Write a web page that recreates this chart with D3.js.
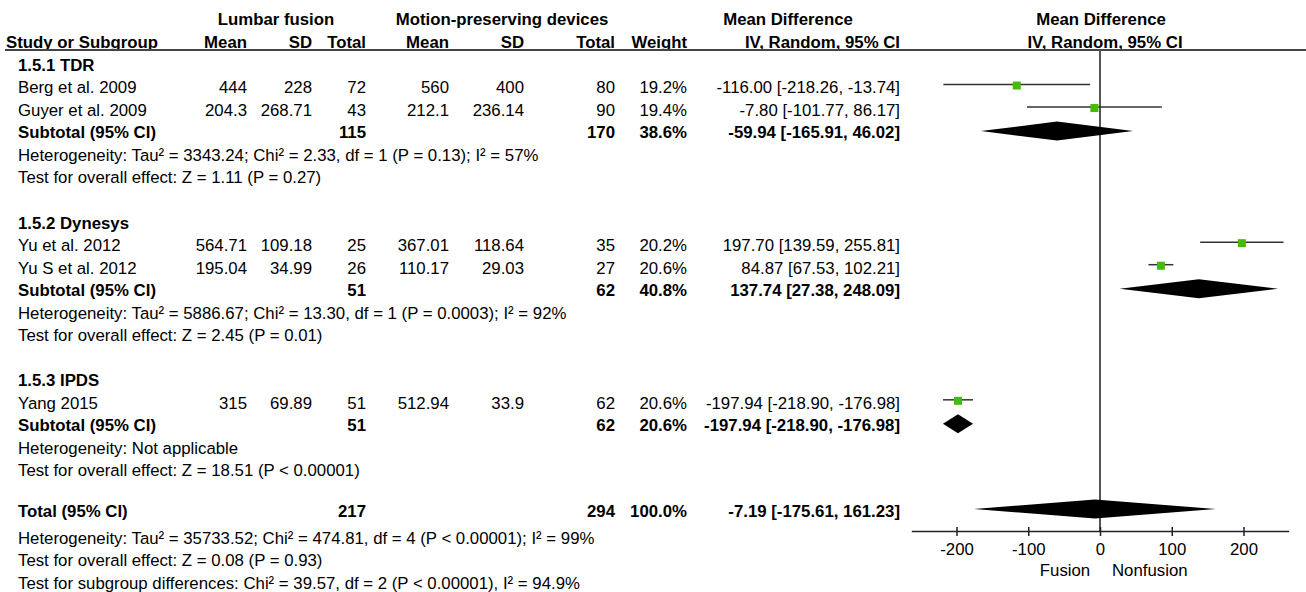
<!DOCTYPE html>
<html lang="en">
<head>
<meta charset="UTF-8">
<title>forest plot</title>
<style>
	body { margin: 0; background: #fff; }
	text { font-family: "Liberation Sans", Arial, sans-serif; font-size: 16.8px; fill: #000; }
	.b { font-weight: bold; }
</style>
</head>
<body>
<svg id="container" width="1306" height="592"></svg>
<script src="https://cdn.jsdelivr.net/npm/d3@7/dist/d3.min.js"></script>
<script>
// study level data
let studies = ["Berg et al. 2009", "Guyer et al. 2009", "Yu et al. 2012", "Yu S et al. 2012", "Yang 2015"]
let studyGroup = [0, 0, 1, 1, 2]
let fusionMean = ["444", "204.3", "564.71", "195.04", "315"]
let fusionSD = ["228", "268.71", "109.18", "34.99", "69.89"]
let fusionN = [72, 43, 25, 26, 51]
let deviceMean = ["560", "212.1", "367.01", "110.17", "512.94"]
let deviceSD = ["400", "236.14", "118.64", "29.03", "33.9"]
let deviceN = [80, 90, 35, 27, 62]
let studyWeight = ["19.2%", "19.4%", "20.2%", "20.6%", "20.6%"]
let studyMD = [-116.00, -7.80, 197.70, 84.87, -197.94]
let studyLo = [-218.26, -101.77, 139.59, 67.53, -218.90]
let studyHi = [-13.74, 86.17, 255.81, 102.21, -176.98]

// subgroups
let groups = ["1.5.1 TDR", "1.5.2 Dynesys", "1.5.3 IPDS"]
let groupFusionN = [115, 51, 51]
let groupDeviceN = [170, 62, 62]
let groupWeight = ["38.6%", "40.8%", "20.6%"]
let groupMD = [-59.94, 137.74, -197.94]
let groupLo = [-165.91, 27.38, -218.90]
let groupHi = [46.02, 248.09, -176.98]
let groupHet = [
	"Heterogeneity: Tau² = 3343.24; Chi² = 2.33, df = 1 (P = 0.13); I² = 57%",
	"Heterogeneity: Tau² = 5886.67; Chi² = 13.30, df = 1 (P = 0.0003); I² = 92%",
	"Heterogeneity: Not applicable"
]
let groupTest = [
	"Test for overall effect: Z = 1.11 (P = 0.27)",
	"Test for overall effect: Z = 2.45 (P = 0.01)",
	"Test for overall effect: Z = 18.51 (P < 0.00001)"
]

// overall
let totalFusionN = 217
let totalDeviceN = 294
let totalWeight = "100.0%"
let totalMD = -7.19, totalLo = -175.61, totalHi = 161.23
let totalNotes = [
	"Heterogeneity: Tau² = 35733.52; Chi² = 474.81, df = 4 (P < 0.00001); I² = 99%",
	"Test for overall effect: Z = 0.08 (P = 0.93)",
	"Test for subgroup differences: Chi² = 39.57, df = 2 (P < 0.00001), I² = 94.9%"
]
let axisTicks = [-200, -100, 0, 100, 200]
let axisLabels = ["Fusion", "Nonfusion"]

let svg = d3.select("#container")
let loc = d3.formatLocale({ decimal: ".", thousands: ",", grouping: [3], currency: ["", ""], minus: "-" })
let f2 = loc.format(".2f")
let ci = (m, l, h) => f2(m) + " [" + f2(l) + ", " + f2(h) + "]"

// row slots
let rowY = d3.scaleLinear().domain([0, 23]).range([65, 583])
let x = d3.scaleLinear().domain([-263, 263]).range([911.3, 1288.7])

// columns: right aligned x positions
let col = { study: 18, m1: 247, sd1: 312, n1: 366, m2: 449, sd2: 524, n2: 615, w: 687, ci: 900 }

function txt(g, xp, y, s, anchor, cls) {
	g.append("text").attr("x", xp).attr("y", y).attr("dy", "0.35em")
		.attr("text-anchor", anchor || "end").attr("class", cls || null).text(s)
}

let head = svg.append("g")
txt(head, 276, 19, "Lumbar fusion", "middle", "b")
txt(head, 502, 19, "Motion-preserving devices", "middle", "b")
txt(head, 788, 19, "Mean Difference", "middle", "b")
txt(head, 1101, 19, "Mean Difference", "middle", "b")
txt(head, 6, 42, "Study or Subgroup", "start", "b")
txt(head, col.m1, 42, "Mean", "end", "b")
txt(head, col.sd1, 42, "SD", "end", "b")
txt(head, col.n1, 42, "Total", "end", "b")
txt(head, col.m2, 42, "Mean", "end", "b")
txt(head, col.sd2, 42, "SD", "end", "b")
txt(head, col.n2, 42, "Total", "end", "b")
txt(head, col.w, 42, "Weight", "end", "b")
txt(head, col.ci, 42, "IV, Random, 95% CI", "end", "b")
txt(head, 1105, 42, "IV, Random, 95% CI", "middle", "b")

svg.append("line").attr("x1", 5).attr("x2", 1306).attr("y1", 50).attr("y2", 50)
	.attr("stroke", "#444").attr("stroke-width", 2)

// zero line
svg.append("line").attr("x1", x(0)).attr("x2", x(0)).attr("y1", 50).attr("y2", 531)
	.attr("stroke", "#555").attr("stroke-width", 2)

let body = svg.append("g")
let markOff = -3

function diamond(y, m, l, h) {
	let hh = 9.5
	body.append("path")
		.attr("d", "M" + x(l) + "," + y + "L" + x(m) + "," + (y - hh) + "L" + x(h) + "," + y + "L" + x(m) + "," + (y + hh) + "Z")
		.attr("fill", "#000")
}

groups.forEach((gname, gi) => {
	let start = gi * 7
	txt(body, col.study, rowY(start), gname, "start", "b")
	let r = start + 1
	studies.forEach((s, i) => {
		if (studyGroup[i] != gi) return
		let y = rowY(r)
		txt(body, col.study, y, s, "start")
		txt(body, col.m1, y, fusionMean[i])
		txt(body, col.sd1, y, fusionSD[i])
		txt(body, col.n1, y, fusionN[i])
		txt(body, col.m2, y, deviceMean[i])
		txt(body, col.sd2, y, deviceSD[i])
		txt(body, col.n2, y, deviceN[i])
		txt(body, col.w, y, studyWeight[i])
		txt(body, col.ci, y, ci(studyMD[i], studyLo[i], studyHi[i]))
		let my = y + markOff
		body.append("line").attr("x1", x(studyLo[i])).attr("x2", x(studyHi[i]))
			.attr("y1", my).attr("y2", my).attr("stroke", "#333").attr("stroke-width", 1.5)
		body.append("rect").attr("x", x(studyMD[i]) - 4).attr("y", my - 3).attr("width", 8).attr("height", 8)
			.attr("fill", "#46bb06")
		r++
	})
	let y = rowY(r)
	txt(body, col.study, y, "Subtotal (95% CI)", "start", "b")
	txt(body, col.n1, y, groupFusionN[gi], "end", "b")
	txt(body, col.n2, y, groupDeviceN[gi], "end", "b")
	txt(body, col.w, y, groupWeight[gi], "end", "b")
	txt(body, col.ci, y, ci(groupMD[gi], groupLo[gi], groupHi[gi]), "end", "b")
	diamond(y - 1.5, groupMD[gi], groupLo[gi], groupHi[gi])
	txt(body, col.study, rowY(r + 1), groupHet[gi], "start")
	txt(body, col.study, rowY(r + 2), groupTest[gi], "start")
})

let ty = rowY(19.8)
txt(body, col.study, ty, "Total (95% CI)", "start", "b")
txt(body, col.n1, ty, totalFusionN, "end", "b")
txt(body, col.n2, ty, totalDeviceN, "end", "b")
txt(body, col.w, ty, totalWeight, "end", "b")
txt(body, col.ci, ty, ci(totalMD, totalLo, totalHi), "end", "b")
diamond(ty - 2, totalMD, totalLo, totalHi)
totalNotes.forEach((s, i) => txt(body, col.study, rowY(21 + i), s, "start"))

// axis
let ax = svg.append("g").attr("transform", "translate(0,531)")
	.call(d3.axisBottom(x).tickValues(axisTicks).tickFormat(loc.format("d")).tickSize(9).tickSizeOuter(0).tickPadding(3))
ax.select(".domain").attr("stroke", "#222").attr("stroke-width", 1.5)
ax.selectAll(".tick line").attr("y1", -4).attr("y2", 5).attr("stroke", "#222").attr("stroke-width", 1.5)
ax.selectAll(".tick text").attr("font-size", 16.8).attr("font-family", "Liberation Sans, Arial, sans-serif").attr("fill", "#000")
txt(svg, 1065, 570, axisLabels[0], "middle")
txt(svg, 1112, 570, axisLabels[1], "start")
</script>
</body>
</html>
